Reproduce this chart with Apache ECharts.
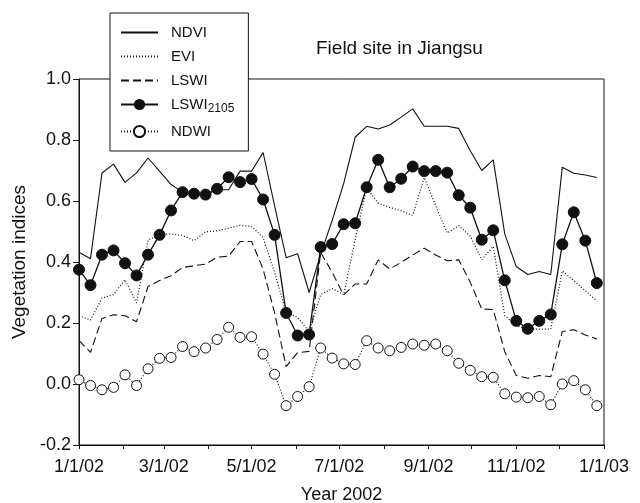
<!DOCTYPE html>
<html>
<head>
<meta charset="utf-8">
<script src="https://cdn.jsdelivr.net/npm/echarts@6/dist/echarts.min.js"></script>
<style>
  html, body { margin: 0; padding: 0; background: #fff; }
  #chart { width: 640px; height: 503px; }
</style>
</head>
<body>
<div id="chart"></div>
<script>
// 8-day composite start, days after 1 Jan 2002
var compDays = [0, 8, 16, 24, 32, 40, 48, 56, 64, 72, 80, 88, 96, 104, 112, 120,
  128, 136, 144, 152, 160, 168, 176, 184, 192, 200, 208, 216, 224, 232, 240, 248,
  256, 264, 272, 280, 288, 296, 304, 312, 320, 328, 336, 344, 352, 360];

var ndvi = [0.432, 0.411, 0.692, 0.721, 0.661, 0.692, 0.741, 0.698, 0.654, 0.629,
  0.624, 0.621, 0.637, 0.637, 0.698, 0.698, 0.759, 0.584, 0.414, 0.427,
  0.300, 0.425, 0.536, 0.657, 0.809, 0.845, 0.836, 0.849, 0.875, 0.902,
  0.845, 0.845, 0.845, 0.838, 0.765, 0.700, 0.735, 0.492, 0.385, 0.359,
  0.369, 0.359, 0.711, 0.691, 0.685, 0.677];

var evi = [0.223, 0.210, 0.282, 0.293, 0.342, 0.266, 0.472, 0.490, 0.492, 0.487,
  0.470, 0.499, 0.502, 0.511, 0.520, 0.517, 0.480, 0.366, 0.235, 0.218,
  0.172, 0.293, 0.313, 0.293, 0.472, 0.643, 0.593, 0.579, 0.568, 0.553,
  0.677, 0.584, 0.495, 0.519, 0.485, 0.408, 0.451, 0.224, 0.191, 0.180,
  0.180, 0.180, 0.371, 0.339, 0.306, 0.273];

var lswi = [0.142, 0.104, 0.215, 0.227, 0.224, 0.204, 0.320, 0.339, 0.355, 0.382,
  0.388, 0.393, 0.416, 0.419, 0.467, 0.467, 0.377, 0.233, 0.057, 0.103,
  0.107, 0.432, 0.366, 0.292, 0.328, 0.328, 0.407, 0.377, 0.399, 0.423,
  0.445, 0.423, 0.404, 0.407, 0.334, 0.246, 0.244, 0.106, 0.028, 0.019,
  0.028, 0.024, 0.172, 0.178, 0.161, 0.148];

var lswi2105 = [0.375, 0.324, 0.424, 0.438, 0.396, 0.356, 0.424, 0.489, 0.569, 0.629,
  0.624, 0.621, 0.640, 0.678, 0.662, 0.672, 0.605, 0.489, 0.233, 0.159,
  0.162, 0.449, 0.459, 0.524, 0.527, 0.645, 0.735, 0.645, 0.673, 0.713,
  0.698, 0.698, 0.693, 0.619, 0.578, 0.473, 0.504, 0.340, 0.207, 0.181,
  0.207, 0.228, 0.458, 0.563, 0.470, 0.331];

var ndwi = [0.014, -0.005, -0.019, -0.011, 0.030, -0.005, 0.050, 0.084, 0.087, 0.123,
  0.106, 0.118, 0.146, 0.186, 0.153, 0.155, 0.098, 0.032, -0.071, -0.041,
  -0.009, 0.118, 0.085, 0.066, 0.064, 0.142, 0.118, 0.109, 0.120, 0.131,
  0.127, 0.131, 0.109, 0.068, 0.045, 0.024, 0.022, -0.032, -0.043, -0.045,
  -0.041, -0.068, 0.000, 0.011, -0.019, -0.071];

var tickLabels = ['1/1/02', '3/1/02', '5/1/02', '7/1/02', '9/1/02', '11/1/02', '1/1/03'];
var tickDays = [0, 59, 120, 181, 243, 304, 365];
var monthDays = [0, 31, 59, 90, 120, 151, 181, 212, 243, 273, 304, 334, 365];

var FONT = 'Liberation Sans, Arial, sans-serif';
var INK = '#111';
var NOFILL = 'rgba(0,0,0,0)';

function pairs(vals) {
    return vals.map(function (v, i) { return [compDays[i], v]; });
}

var chart = echarts.init(document.getElementById('chart'), null, {renderer: 'canvas'});

var option = {
    animation: false,
    backgroundColor: '#fff',
    title: {
        text: 'Field site in Jiangsu',
        left: 311,
        top: 34,
        textStyle: {fontFamily: FONT, fontSize: 19, fontWeight: 'normal', color: INK}
    },
    grid: {
        left: 79, right: 36, top: 79, bottom: 58,
        outerBoundsMode: 'none',
        containLabel: false,
        show: true, borderColor: INK, borderWidth: 1
    },
    legend: {
        orient: 'vertical',
        left: 110,
        top: 13,
        padding: [12, 14, 12, 10],
        itemWidth: 37,
        itemHeight: 14,
        itemGap: 9,
        borderColor: INK,
        borderWidth: 1,
        backgroundColor: '#fff',
        z: 10,
        data: ['NDVI', 'EVI', 'LSWI', 'LSWI2105', 'NDWI'],
        formatter: function (name) {
            return name === 'LSWI2105' ? '{b|LSWI}{s|2105}' : name;
        },
        textStyle: {
            fontFamily: FONT, fontSize: 15, color: INK, padding: [0, 0, 0, 8],
            rich: {
                b: {fontFamily: FONT, fontSize: 15, color: INK},
                s: {fontFamily: FONT, fontSize: 12, color: INK, padding: [9, 0, 0, 0]}
            }
        }
    },
    xAxis: {
        type: 'value',
        min: 0,
        max: 365,
        name: 'Year 2002',
        nameLocation: 'middle',
        nameGap: 41,
        nameTextStyle: {fontFamily: FONT, fontSize: 18, color: INK},
        axisLine: {onZero: false, lineStyle: {color: INK, width: 1}},
        axisTick: {customValues: monthDays, length: 4, lineStyle: {color: INK}},
        axisLabel: {
            customValues: tickDays,
            margin: 13,
            fontFamily: FONT, fontSize: 18, color: INK,
            formatter: function (v) {
                var k = tickDays.indexOf(Math.round(v));
                return k >= 0 ? tickLabels[k] : '';
            }
        },
        splitLine: {show: false}
    },
    yAxis: {
        type: 'value',
        min: -0.2,
        max: 1.0,
        interval: 0.2,
        name: 'Vegetation indices',
        nameLocation: 'middle',
        nameGap: 50,
        nameTextStyle: {fontFamily: FONT, fontSize: 19, color: INK},
        axisLine: {show: true, onZero: false, lineStyle: {color: INK, width: 1}},
        axisTick: {show: true, length: 6, lineStyle: {color: INK}},
        axisLabel: {
            margin: 8,
            fontFamily: FONT, fontSize: 18, color: INK,
            formatter: function (v) {
                return Math.abs(v) < 1e-9 ? '0.0' : v.toFixed(1);
            }
        },
        splitLine: {show: false}
    },
    series: [
        {
            name: 'NDVI', type: 'line', data: pairs(ndvi),
            symbol: 'none',
            itemStyle: {color: NOFILL, borderColor: NOFILL},
            lineStyle: {color: INK, width: 1.1, type: 'solid'}
        },
        {
            name: 'EVI', type: 'line', data: pairs(evi),
            symbol: 'none',
            itemStyle: {color: NOFILL, borderColor: NOFILL},
            lineStyle: {color: INK, width: 1.2, type: [1, 2]}
        },
        {
            name: 'LSWI', type: 'line', data: pairs(lswi),
            symbol: 'none',
            itemStyle: {color: NOFILL, borderColor: NOFILL},
            lineStyle: {color: INK, width: 1.1, type: [8, 4]}
        },
        {
            name: 'LSWI2105', type: 'line', data: pairs(lswi2105),
            symbol: 'circle', symbolSize: 11,
            itemStyle: {color: INK, borderColor: INK},
            lineStyle: {color: INK, width: 1.3, type: 'solid'},
            z: 4
        },
        {
            name: 'NDWI', type: 'line', data: pairs(ndwi),
            symbol: 'circle', symbolSize: 10,
            itemStyle: {color: '#fff', borderColor: INK, borderWidth: 1},
            lineStyle: {color: INK, width: 1.2, type: [1, 2]},
            z: 3
        }
    ]
};

chart.setOption(option);
</script>
</body>
</html>
